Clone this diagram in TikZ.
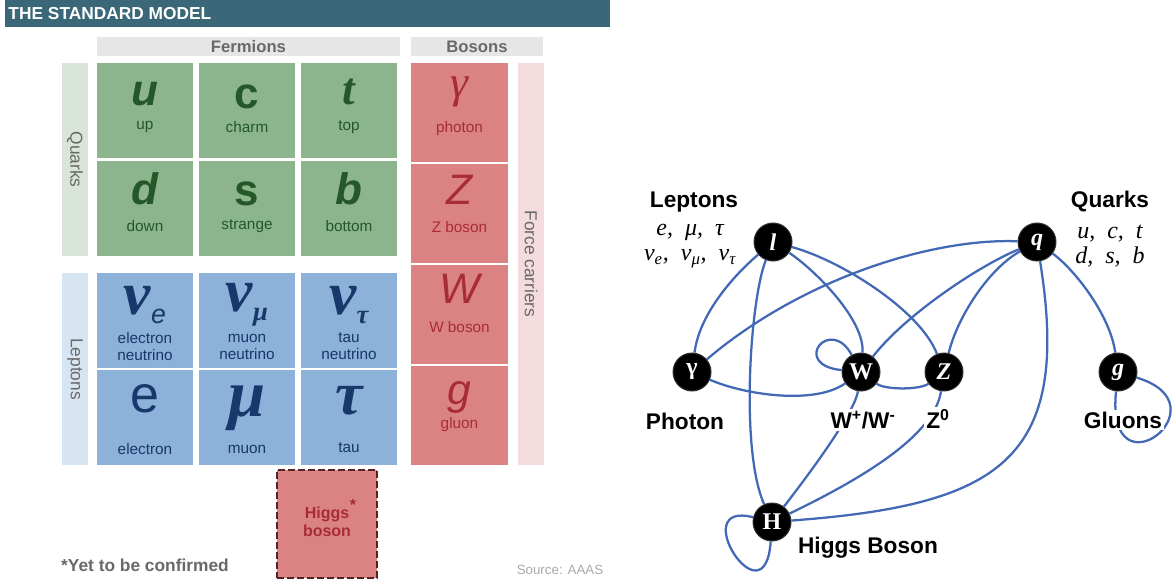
\documentclass[tikz,border=0pt]{standalone}
\usepackage{fontspec}
\setmainfont{Liberation Sans}
\newfontfamily\tmsfont{Liberation Serif}

\tikzset{every picture/.style={line width=0.75pt}}
\tikzset{
  % table of particles
  quarkcell/.style={fill={rgb, 255:red, 141; green, 181; blue, 141 }, minimum width=72pt, minimum height=71.6pt, inner sep=0pt},
  leptoncell/.style={fill={rgb, 255:red, 141; green, 178; blue, 217 }, minimum width=72pt, minimum height=71.25pt, inner sep=0pt},
  bosoncell/.style={fill={rgb, 255:red, 219; green, 131; blue, 131 }, minimum width=72.75pt, minimum height=74.6pt, inner sep=0pt},
  band/.style={inner sep=0pt, color={rgb, 255:red, 105; green, 105; blue, 105 }, font=\fontsize{13}{13}\selectfont},
  quarktext/.style={inner sep=0pt, color={rgb, 255:red, 36; green, 88; blue, 40 }},
  leptontext/.style={inner sep=0pt, color={rgb, 255:red, 24; green, 55; blue, 106 }},
  bosontext/.style={inner sep=0pt, color={rgb, 255:red, 168; green, 44; blue, 54 }},
  cellname/.style={font=\fontsize{11.5}{12.75}\selectfont, align=center},
  symbold/.style={font=\bfseries\fontsize{33}{33}\selectfont},
  symbolditalic/.style={font=\bfseries\itshape\fontsize{33}{33}\selectfont},
  symitalic/.style={font=\itshape\fontsize{32}{32}\selectfont},
  symserif/.style={font=\tmsfont\bfseries\itshape\fontsize{46}{46}\selectfont},
  % interaction graph
  particle/.style={circle, fill=black, draw={rgb, 255:red, 50; green, 50; blue, 50 }, minimum size=28.5pt, inner sep=0pt, text=white, font=\tmsfont\bfseries\fontsize{18}{18}\selectfont},
  link/.style={color={rgb, 255:red, 66; green, 104; blue, 182 }, line width=1.7pt},
  grouplabel/.style={inner sep=0.75pt, font=\bfseries\fontsize{17}{17}\selectfont},
  memberlist/.style={inner sep=0.75pt, align=center, font=\tmsfont\itshape\fontsize{18}{19}\selectfont},
  partname/.style={fill=white, inner sep=1.5pt}
}

\begin{document}
\begin{tikzpicture}[x=0.75pt,y=0.75pt,yscale=-1,xscale=1]
\useasboundingbox (0,0) rectangle (1174,581);

%Shape: Rectangle [title bar]
\node [fill={rgb, 255:red, 58; green, 104; blue, 120 }, minimum width=453.75pt, minimum height=20.25pt, inner sep=0pt] (titlebar) at (307.5,13.5) {};
% Text Node
\node [anchor=west, inner sep=0pt, text=white, font=\bfseries\fontsize{13}{13}\selectfont] (title) at (8,14) {THE STANDARD MODEL};

%Shape: Rectangle [group bands]
\node [band, fill={rgb, 255:red, 230; green, 230; blue, 230 }, minimum width=227.25pt, minimum height=14.25pt, font=\bfseries\fontsize{12.5}{12.5}\selectfont] (fermions) at (248.5,46.5) {Fermions};
\node [band, fill={rgb, 255:red, 230; green, 230; blue, 230 }, minimum width=99pt, minimum height=14.25pt, font=\bfseries\fontsize{12.5}{12.5}\selectfont] (bosons) at (477,46.5) {Bosons};
\node [band, fill={rgb, 255:red, 217; green, 229; blue, 217 }, rotate=-90, minimum width=144.75pt, minimum height=19.5pt] (quarkband) at (75,159.5) {Quarks};
\node [band, fill={rgb, 255:red, 215; green, 229; blue, 242 }, rotate=-90, minimum width=144pt, minimum height=19.5pt] (leptonband) at (75,369) {Leptons};
\node [band, fill={rgb, 255:red, 243; green, 219; blue, 222 }, rotate=-90, minimum width=301.5pt, minimum height=19.5pt] (forceband) at (531,264) {Force carriers};

%Shape: Rectangle [quarks]
\node [quarkcell] (ucell) at (145,110.75) {};
\node [quarkcell] (ccell) at (247,110.75) {};
\node [quarkcell] (tcell) at (349,110.75) {};
\node [quarkcell] (dcell) at (145,208.25) {};
\node [quarkcell] (scell) at (247,208.25) {};
\node [quarkcell] (bcell) at (349,208.25) {};

%Shape: Rectangle [leptons]
\node [leptoncell] (nuecell) at (145,320.5) {};
\node [leptoncell] (numcell) at (247,320.5) {};
\node [leptoncell] (nutcell) at (349,320.5) {};
\node [leptoncell] (ecell) at (145,417) {};
\node [leptoncell] (mucell) at (247,417) {};
\node [leptoncell] (taucell) at (349,417) {};

%Shape: Rectangle [force carriers]
\node [bosoncell] (gammacell) at (459.5,112.75) {};
\node [bosoncell] (zcell) at (459.5,213.75) {};
\node [bosoncell] (wcell) at (459.5,314.75) {};
\node [bosoncell] (gcell) at (459.5,415.75) {};

% Text Node
\node [quarktext, symbolditalic] (usym) at (145,94) {u};
\node [quarktext, cellname] (uname) at (145,127) {up};
\node [quarktext, symbold] (csym) at (247,97) {c};
\node [quarktext, cellname] (cname) at (247,127) {charm};
\node [quarktext, font=\tmsfont\bfseries\itshape\fontsize{34}{34}\selectfont] (tsym) at (349,92) {t};
\node [quarktext, cellname] (tname) at (349,127) {top};
\node [quarktext, symbolditalic] (dsym) at (145,189) {d};
\node [quarktext, cellname] (dname) at (145,226) {down};
\node [quarktext, symbold] (ssym) at (247,193.5) {s};
\node [quarktext, cellname] (sname) at (247,226) {strange};
\node [quarktext, symbolditalic] (bsym) at (349,189) {b};
\node [quarktext, cellname] (bname) at (349,226) {bottom};

% Text Node
\node [leptontext, symserif] (nuesym) at (145,305) {ν\raisebox{-0.15em}{\rmfamily\mdseries\itshape\fontsize{20}{20}\selectfont e}};
\node [leptontext, cellname] (nuename) at (145,346.5) {electron\\neutrino};
\node [leptontext, symserif] (numsym) at (247,305) {ν\raisebox{-0.15em}{\fontsize{20}{20}\selectfont μ}};
\node [leptontext, cellname] (numname) at (247,346.5) {muon\\neutrino};
\node [leptontext, symserif] (nutsym) at (349,305) {ν\raisebox{-0.15em}{\fontsize{20}{20}\selectfont τ}};
\node [leptontext, cellname] (nutname) at (349,346.5) {tau\\neutrino};
\node [leptontext, font=\fontsize{39}{39}\selectfont] (esym) at (145,399) {e};
\node [leptontext, cellname] (ename) at (145,449) {electron};
\node [leptontext, font=\tmsfont\bfseries\itshape\fontsize{50}{50}\selectfont] (musym) at (247,408) {μ};
\node [leptontext, cellname] (muname) at (247,449) {muon};
\node [leptontext, symserif] (tausym) at (349,401) {τ};
\node [leptontext, cellname] (tauname) at (349,448) {tau};

% Text Node
\node [bosontext, font=\tmsfont\itshape\fontsize{34}{34}\selectfont] (gammasym) at (459.5,91.5) {γ};
\node [bosontext, cellname] (gammaname) at (459.5,129) {photon};
\node [bosontext, symitalic] (zsym) at (459.5,190) {Z};
\node [bosontext, cellname] (zname) at (459.5,227) {Z boson};
\node [bosontext, symitalic] (wsym) at (459.5,289) {W};
\node [bosontext, cellname] (wname) at (459.5,327) {W boson};
\node [bosontext, symitalic] (gsym) at (459.5,397) {g};
\node [bosontext, cellname] (gname) at (459.5,425) {gluon};

%Shape: Rectangle [higgs, dashed]
\node [bosoncell, draw={rgb, 255:red, 85; green, 35; blue, 35 }, dash pattern=on 5pt off 2.5pt, line width=1.1pt, minimum width=75pt, minimum height=81pt] (higgsbox) at (327,524) {};
\node [bosontext, align=center, font=\bfseries\fontsize{12}{13.5}\selectfont] (higgsname) at (327,522) {Higgs\\boson};
\node [bosontext, font=\bfseries\fontsize{12}{12}\selectfont] (higgsstar) at (353,505) {*};

% Text Node
\node [inner sep=0pt, color={rgb, 255:red, 105; green, 105; blue, 105 }, font=\bfseries\fontsize{13}{13}\selectfont] (footnote) at (145,565) {*Yet to be confirmed};
\node [inner sep=0pt, color={rgb, 255:red, 170; green, 170; blue, 170 }, font=\fontsize{10}{10}\selectfont] (source) at (560,570) {Source: AAAS};

%Shape: Circle [particles]
\node [particle] (lep) at (773,242) {\itshape l};
\node [particle] (qrk) at (1037,242) {\itshape q};
\node [particle] (pho) at (692,372) {γ};
\node [particle] (wbo) at (861,372) {W};
\node [particle] (zbo) at (944,372) {\itshape Z};
\node [particle] (glu) at (1118,372) {\itshape g};
\node [particle] (hig) at (772,522) {H};

%Curve Lines [interactions]
\draw [link] (lep) .. controls (740,270) and (700,310) .. (pho);
\draw [link] (lep) .. controls (750,300) and (740,450) .. (hig);
\draw [link] (lep) .. controls (815,270) and (865,320) .. (wbo);
\draw [link] (lep) .. controls (840,260) and (920,310) .. (zbo);
\draw [link] (qrk) .. controls (930,238) and (800,280) .. (pho);
\draw [link] (qrk) .. controls (980,265) and (905,315) .. (wbo);
\draw [link] (qrk) .. controls (990,268) and (958,315) .. (zbo);
\draw [link] (qrk) .. controls (1075,270) and (1110,315) .. (glu);
\draw [link] (qrk) .. controls (1072,460) and (1000,505) .. (hig);
\draw [link] (pho) .. controls (745,395) and (815,405) .. (wbo);
\draw [link] (wbo) .. controls (885,390) and (920,390) .. (zbo);
\draw [link] (wbo) .. controls (855,410) and (820,460) .. (hig);
\draw [link] (zbo) .. controls (935,430) and (880,470) .. (hig);
%Curve Lines [self couplings]
\draw [link] (wbo) .. controls (830,315) and (790,365) .. (wbo);
\draw [link] (glu) .. controls (1105,500) and (1228,405) .. (glu);
\draw [link] (hig) .. controls (685,500) and (765,625) .. (hig);

% Text Node
\node [grouplabel] (leptons) at (694,202) {Leptons};
\node [memberlist] (leptonlist) at (690,246) {e,\enspace μ,\enspace τ\\ν\textsubscript{e},\enspace ν\textsubscript{μ},\enspace ν\textsubscript{τ}};
\node [grouplabel] (quarks) at (1110,202) {Quarks};
\node [memberlist] (quarklist) at (1110,246) {u,\enspace c,\enspace t\\d,\enspace s,\enspace b};
\node [grouplabel] (photon) at (685,421) {Photon};
\node [grouplabel, partname] (wlabel) at (863,420) {W\textsuperscript{+}/W\textsuperscript{-}};
\node [grouplabel, partname] (zlabel) at (938,419) {Z\textsuperscript{0}};
\node [grouplabel, partname] (gluons) at (1123,420) {Gluons};
\node [grouplabel] (higgs) at (868,548) {Higgs Boson};

\end{tikzpicture}
\end{document}
